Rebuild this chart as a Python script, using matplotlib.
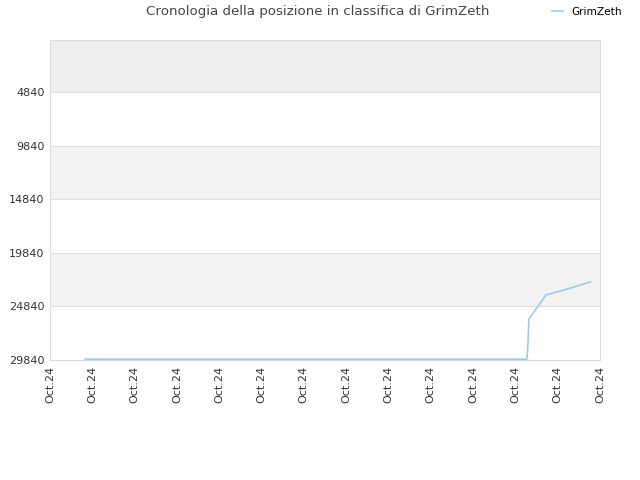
import matplotlib
matplotlib.use("Agg")
import matplotlib.pyplot as plt

# posizione nel tempo (indice giorno, rank)
days = [0.83, 3.0, 6.0, 9.0, 11.27, 11.29, 11.32, 11.72, 12.2, 12.77]
ranks = [29760, 29760, 29760, 29760, 29760, 28900, 26020, 23780, 23250, 22560]

tick_pos = list(range(14))
tick_labels = ["Oct.24"] * 14
y_ticks = [4840, 9840, 14840, 19840, 24840, 29840]

fig = plt.figure(figsize=(6.4, 4.8), dpi=100)
ax = fig.add_axes([50 / 640, 120 / 480, 550 / 640, 320 / 480])

ymin, ymax = -10, 29840
# bande alternate
ax.axhspan(ymin, 4840, color="#eeeeee", zorder=0, lw=0)
for lo, hi, c in [(4840, 9840, "white"), (9840, 14840, "#f2f2f2"),
                  (14840, 19840, "white"), (19840, 24840, "#f2f2f2"),
                  (24840, 29840, "white")]:
    ax.axhspan(lo, hi, color=c, zorder=0, lw=0)
for y in y_ticks:
    ax.axhline(y, color="#e0e0e0", lw=0.8, zorder=1)

ax.plot(days, ranks, color="#9fc9f5", lw=1.2, label="GrimZeth", zorder=3)

ax.set_xlim(0, 13)
ax.set_ylim(ymax, ymin)
ax.set_xticks(tick_pos)
ax.set_xticklabels(tick_labels, rotation=90, fontsize=8, color="#333333")
ax.set_yticks(y_ticks)
ax.set_yticklabels([str(v) for v in y_ticks], fontsize=8, color="#333333")
ax.tick_params(length=0, pad=4)
for s in ax.spines.values():
    s.set_color("#dddddd")

fig.text(318 / 640, 1 - 12 / 480, "Cronologia della posizione in classifica di GrimZeth",
         ha="center", va="center", fontsize=9.6, color="#444444")
fig.legend(loc="center left", bbox_to_anchor=(552 / 640, 1 - 12 / 480), frameon=False,
           fontsize=7.6, handlelength=1.0, handletextpad=0.85,
           borderpad=0, borderaxespad=0)

fig.savefig("out.png", dpi=100)
